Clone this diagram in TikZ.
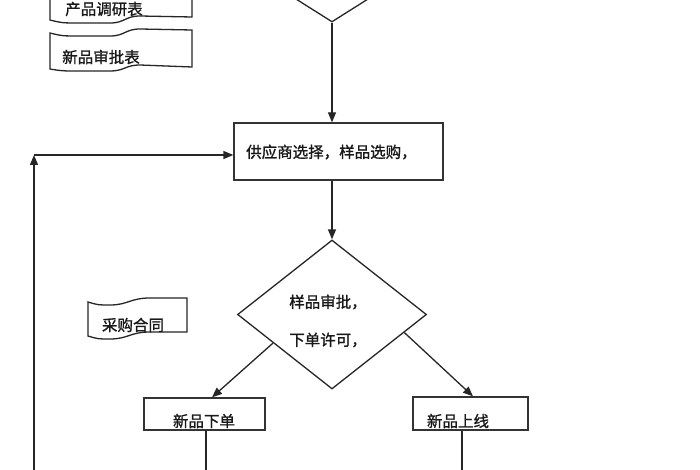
\documentclass[tikz,border=0pt]{standalone}
\usepackage{fontspec}
\setmainfont[FakeBold=1.2]{Noto Sans CJK SC}
\usetikzlibrary{shapes.geometric,arrows.meta,calc}
\begin{document}
\begin{tikzpicture}[x=1pt,y=-1pt,
  every node/.style={font=\fontsize{15.5}{18}\selectfont, text=black!90},
  ln/.style={draw=black!85, line width=1.3pt},
  arr/.style={ln, -{Triangle[length=10pt,width=8pt]}},
  box/.style={draw=black!80, line width=1.3pt, rectangle, inner sep=0pt, fill=white},
  dia/.style={draw=black!85, line width=1.3pt, diamond, inner sep=0pt, align=center},
  txt/.style={inner sep=0pt, anchor=center}]
\useasboundingbox (0,0) rectangle (700,470);
\clip (0,0) rectangle (700,470);
\fill[white] (0,0) rectangle (700,470);

% documents top-left
\draw[ln] (50,-5) -- (50,20) .. controls (62,23) .. (80,23) -- (110,23)
   .. controls (125,23) and (125,16) .. (140,16) -- (192,17) -- (192,-5);
\node[txt] (doc1) at (104,9) {产品调研表};
\draw[ln] (50,33) .. controls (62,36) .. (80,36) -- (110,36)
   .. controls (125,36) and (125,29) .. (140,29) -- (192,30) -- (192,67)
   -- (140,65) .. controls (125,65) and (125,71) .. (110,71) -- (80,71)
   .. controls (62,71) .. (50,69) -- cycle;
\node[txt] (doc2) at (101,57) {新品审批表};

% flag
\draw[ln] (88,302) .. controls (98,305) .. (110,305)
   .. controls (128,305) and (130,298) .. (150,298) -- (187,298) -- (187,332)
   -- (150,332) .. controls (130,332) and (128,339) .. (110,339)
   .. controls (98,339) .. (88,336) -- cycle;
\node[txt] (flag) at (133,325) {采购合同};

% top diamond (cut)
\node[dia, minimum width=190pt, minimum height=120pt] (d1) at (332,-38) {};

% supplier rect
\node[box, minimum width=209pt, minimum height=57pt] (r1) at (338.5,151.5) {};
\node[txt, anchor=west] (r1t) at (246,152) {供应商选择，样品选购，};

% decision diamond
\node[dia, minimum width=189pt, minimum height=149pt] (d2) at (332,314.5) {};
\node[txt] (d2a) at (328,302) {样品审批，};
\node[txt] (d2b) at (328,340) {下单许可，};

% bottom boxes
\node[box, minimum width=121pt, minimum height=32pt] (b1) at (204.5,414) {};
\node[txt] (b1t) at (204,421) {新品下单};
\node[box, minimum width=115pt, minimum height=33pt] (b2) at (470.5,413.5) {};
\node[txt] (b2t) at (458,421) {新品上线};

% connectors
\draw[arr] (d1.south) -- (d1.south |- r1.north);
\draw[arr] (d2.north |- r1.south) -- (d2.north);
\draw[arr] ($(d2.west)!0.38!(d2.south)$) -- ([xshift=7.5pt]b1.north);
\draw[arr] ($(d2.east)!0.24!(d2.south)$) -- ([xshift=2.5pt]b2.north);

\coordinate (e1) at (206,475);
\coordinate (e2) at (462,475);
\draw[ln] (b1.south -| e1) -- (e1);
\draw[ln] (b2.south -| e2) -- (e2);

\coordinate (lb) at (34,475);
\coordinate (lc) at (34,155);
\draw[arr] (lb) -- (lc);
\draw[arr] (lc) -- (lc -| r1.west);
\end{tikzpicture}
\end{document}
